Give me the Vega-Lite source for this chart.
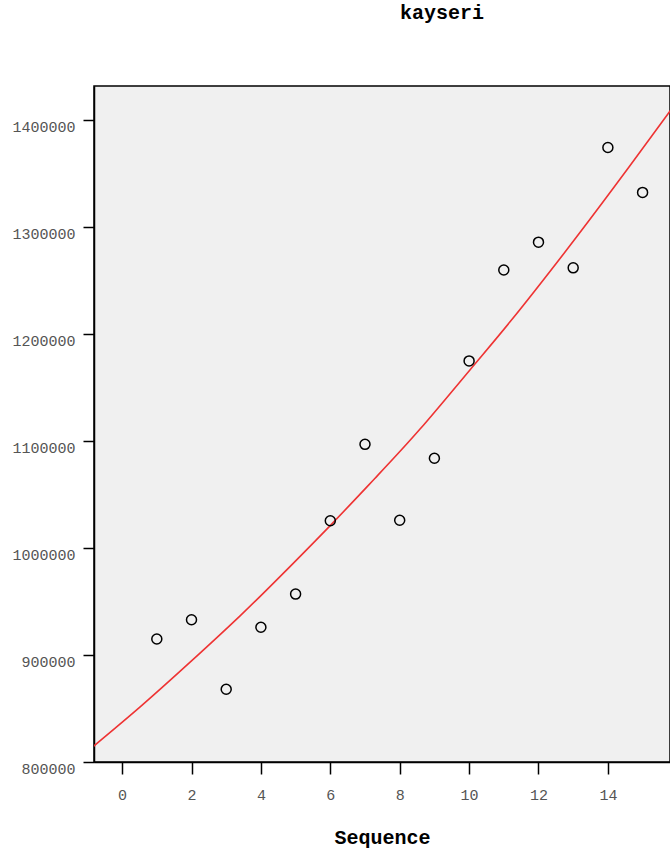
{
  "$schema": "https://vega.github.io/schema/vega-lite/v6.json",
  "width": 576,
  "height": 676,
  "autosize": "none",
  "padding": {"left": 94, "top": 86, "right": 0, "bottom": 92},
  "background": "white",
  "title": {
    "text": "kayseri",
    "font": "Liberation Mono",
    "fontSize": 20,
    "fontWeight": "bold",
    "color": "black",
    "anchor": "middle",
    "dx": 60,
    "baseline": "alphabetic",
    "offset": 47
  },
  "config": {
    "view": {"fill": "#f0f0f0", "stroke": "black", "strokeWidth": 1.5},
    "axis": {
      "domainColor": "black",
      "domainWidth": 1.5,
      "tickColor": "black",
      "tickWidth": 1.5,
      "grid": false,
      "labelFont": "Liberation Mono",
      "labelFontSize": 15,
      "labelColor": "#555555",
      "titleFont": "Liberation Mono",
      "titleFontSize": 20,
      "titleFontWeight": "bold",
      "titleColor": "black"
    }
  },
  "datasets": {
    "points": [
      {"Sequence": 1, "value": 915000},
      {"Sequence": 2, "value": 933000},
      {"Sequence": 3, "value": 868000},
      {"Sequence": 4, "value": 926000},
      {"Sequence": 5, "value": 957000},
      {"Sequence": 6, "value": 1025500},
      {"Sequence": 7, "value": 1097000},
      {"Sequence": 8, "value": 1026000},
      {"Sequence": 9, "value": 1084000},
      {"Sequence": 10, "value": 1175000},
      {"Sequence": 11, "value": 1260000},
      {"Sequence": 12, "value": 1286000},
      {"Sequence": 13, "value": 1262000},
      {"Sequence": 14, "value": 1374500},
      {"Sequence": 15, "value": 1332500}
    ],
    "curve": [
      {"Sequence": -0.85, "value": 814000},
      {"Sequence": 0.52, "value": 851500},
      {"Sequence": 1.96, "value": 893300},
      {"Sequence": 3.4, "value": 936600},
      {"Sequence": 4.55, "value": 973300},
      {"Sequence": 5.99, "value": 1020800},
      {"Sequence": 7.29, "value": 1065300},
      {"Sequence": 8.58, "value": 1111000},
      {"Sequence": 10.03, "value": 1166800},
      {"Sequence": 11.18, "value": 1211500},
      {"Sequence": 12.71, "value": 1274500},
      {"Sequence": 14.25, "value": 1340600},
      {"Sequence": 15.74, "value": 1406300},
      {"Sequence": 15.9, "value": 1413600}
    ]
  },
  "layer": [
    {
      "data": {"name": "curve"},
      "mark": {"type": "line", "color": "#ee3333", "strokeWidth": 1.6, "interpolate": "natural", "clip": true},
      "encoding": {
        "x": {"field": "Sequence", "type": "quantitative"},
        "y": {"field": "value", "type": "quantitative"}
      }
    },
    {
      "data": {"name": "points"},
      "mark": {"type": "point", "shape": "circle", "filled": false, "color": "black", "size": 100, "strokeWidth": 1.5, "opacity": 1},
      "encoding": {
        "x": {
          "field": "Sequence",
          "type": "quantitative",
          "scale": {"domain": [-0.81, 15.79], "nice": false, "zero": false},
          "axis": {
            "values": [0, 2, 4, 6, 8, 10, 12, 14],
            "title": "Sequence",
            "titleFont": "Liberation Mono",
            "titleFontSize": 20,
            "titleFontWeight": "bold",
            "tickSize": 12,
            "labelPadding": 25,
            "labelBaseline": "alphabetic",
            "titleX": 288,
            "titleY": 81,
            "titleAlign": "center",
            "titleBaseline": "alphabetic"
          }
        },
        "y": {
          "field": "value",
          "type": "quantitative",
          "scale": {"domain": [800000, 1432000], "nice": false, "zero": false},
          "axis": {
            "values": [800000, 900000, 1000000, 1100000, 1200000, 1300000, 1400000],
            "format": "d",
            "title": null,
            "tickSize": 11,
            "labelPadding": 8,
            "labelBaseline": "alphabetic",
            "labelOffset": 11
          }
        }
      }
    }
  ]
}
